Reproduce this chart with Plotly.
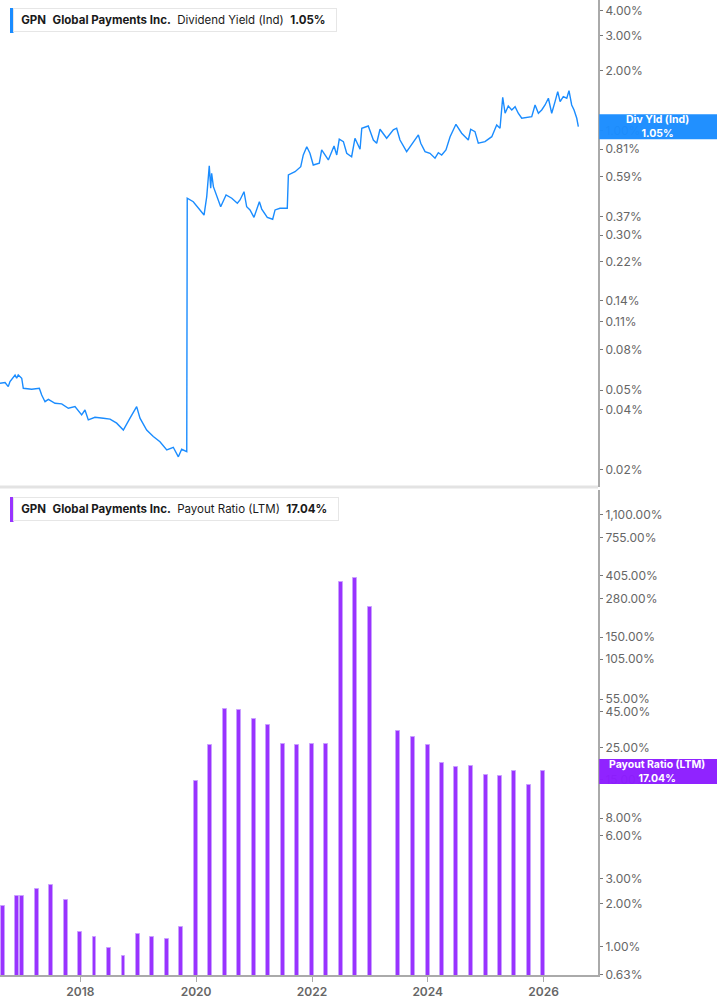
import numpy as np
import plotly.graph_objects as go

# ---------------------------------------------------------------------------
# Data
# ---------------------------------------------------------------------------

# Dividend yield (Ind), in %
yield_dates = [
    "2016-08-12", "2016-09-13", "2016-10-03", "2016-10-14", "2016-11-15", "2016-11-25",
    "2016-12-05", "2016-12-27", "2017-01-06", "2017-02-28", "2017-04-17", "2017-05-02",
    "2017-05-23", "2017-06-13", "2017-07-25", "2017-09-05", "2017-10-17", "2017-11-28",
    "2018-01-09", "2018-01-30", "2018-02-20", "2018-04-03", "2018-05-26", "2018-07-07",
    "2018-08-18", "2018-09-29", "2018-11-10", "2018-12-22", "2019-01-12", "2019-02-23",
    "2019-04-06", "2019-05-18", "2019-06-30", "2019-08-10", "2019-09-11", "2019-10-02",
    "2019-11-03", "2019-11-06", "2019-12-14", "2020-01-26", "2020-02-20", "2020-03-08",
    "2020-03-24", "2020-04-02", "2020-04-08", "2020-04-19", "2020-05-14", "2020-06-04",
    "2020-07-08", "2020-08-13", "2020-09-17", "2020-10-04", "2020-10-29", "2020-11-15",
    "2020-12-06", "2020-12-31", "2021-02-03", "2021-02-18", "2021-03-25", "2021-04-28",
    "2021-05-13", "2021-06-13", "2021-07-29", "2021-08-05", "2021-09-16", "2021-10-22",
    "2021-11-07", "2021-11-29", "2021-12-19", "2022-01-09", "2022-02-16", "2022-03-03",
    "2022-04-14", "2022-05-20", "2022-06-06", "2022-06-22", "2022-07-18", "2022-08-08",
    "2022-09-08", "2022-09-29", "2022-10-31", "2022-11-11", "2022-12-22", "2023-01-13",
    "2023-01-23", "2023-02-13", "2023-03-06", "2023-04-17", "2023-05-29", "2023-06-19",
    "2023-07-10", "2023-08-21", "2023-10-02", "2023-11-03", "2023-11-18", "2023-12-15",
    "2024-01-15", "2024-02-16", "2024-03-08", "2024-03-29", "2024-04-25", "2024-05-21",
    "2024-06-27", "2024-08-02", "2024-09-13", "2024-09-28", "2024-10-25", "2024-11-15",
    "2024-12-27", "2025-02-08", "2025-03-11", "2025-04-01", "2025-04-18", "2025-05-03",
    "2025-05-23", "2025-06-14", "2025-07-05", "2025-07-25", "2025-08-16", "2025-09-27",
    "2025-10-18", "2025-11-08", "2025-11-29", "2025-12-20", "2026-01-10", "2026-01-31",
    "2026-02-21", "2026-03-14", "2026-03-31", "2026-04-15", "2026-05-05", "2026-05-27",
    "2026-06-10", "2026-06-27", "2026-07-12", "2026-07-29", "2026-08-08",
]
yield_values = [
    0.0541, 0.0545, 0.0520, 0.0551, 0.0595, 0.0573,
    0.0595, 0.0573, 0.0510, 0.0505, 0.0510, 0.0472,
    0.0437, 0.0449, 0.0429, 0.0426, 0.0405, 0.0413,
    0.0375, 0.0397, 0.0354, 0.0365, 0.0361, 0.0357,
    0.0341, 0.0315, 0.0361, 0.0413, 0.0361, 0.0315,
    0.0292, 0.0275, 0.0250, 0.0258, 0.0231, 0.0252,
    0.0245, 0.459, 0.441, 0.401, 0.378, 0.468,
    0.667, 0.515, 0.613, 0.525, 0.464, 0.416,
    0.477, 0.459, 0.433, 0.450, 0.495, 0.416,
    0.401, 0.368, 0.441, 0.405, 0.368, 0.360,
    0.401, 0.409, 0.409, 0.601, 0.624, 0.661,
    0.757, 0.833, 0.772, 0.674, 0.688, 0.802,
    0.715, 0.840, 0.757, 0.908, 0.883, 0.772,
    0.742, 0.918, 0.809, 1.031, 1.058, 0.954,
    0.900, 0.867, 1.019, 0.918, 1.011, 1.031,
    0.900, 0.787, 0.873, 0.954, 0.867, 0.787,
    0.772, 0.729, 0.777, 0.757, 0.802, 0.935,
    1.079, 0.973, 0.900, 1.019, 0.991, 0.867,
    0.883, 0.935, 1.071, 1.031, 1.475, 1.226,
    1.334, 1.274, 1.323, 1.226, 1.157, 1.170,
    1.178, 1.349, 1.226, 1.274, 1.349, 1.458,
    1.226, 1.402, 1.573, 1.402, 1.485, 1.458,
    1.591, 1.349, 1.274, 1.157, 1.05,
]

# Payout ratio (LTM), in %, quarterly
payout_dates = [
    "2016-08-31", "2016-11-30", "2016-12-31", "2017-03-31", "2017-06-30", "2017-09-30",
    "2017-12-31", "2018-03-31", "2018-06-30", "2018-09-30", "2018-12-31", "2019-03-31",
    "2019-06-30", "2019-09-30", "2019-12-31", "2020-03-31", "2020-06-30", "2020-09-30",
    "2020-12-31", "2021-03-31", "2021-06-30", "2021-09-30", "2021-12-31", "2022-03-31",
    "2022-06-30", "2022-09-30", "2022-12-31", "2023-06-30", "2023-09-30", "2023-12-31",
    "2024-03-31", "2024-06-30", "2024-09-30", "2024-12-31", "2025-03-31", "2025-06-30",
    "2025-09-30", "2025-12-31",
]
payout_values = [
    1.91, 2.28, 2.28, 2.54, 2.72, 2.12,
    1.26, 1.16, 0.98, 0.86, 1.23, 1.16,
    1.12, 1.38, 14.7, 26.0, 46.6, 46.2,
    39.6, 36.3, 26.7, 26.0, 26.8, 26.8,
    367.0, 394.0, 244.0, 32.9, 29.7, 26.2,
    19.6, 18.2, 18.6, 16.0, 15.9, 17.1,
    13.7, 17.04,
]

yield_ticks = [4.00, 3.00, 2.00, 1.00, 0.81, 0.59, 0.37, 0.30, 0.22, 0.14, 0.11, 0.08, 0.05, 0.04, 0.02]
payout_ticks = [1100, 755, 405, 280, 150, 105, 55, 45, 25, 15, 8, 6, 3, 2, 1, 0.63]
year_ticks = ["2018", "2020", "2022", "2024", "2026"]

last_yield = 1.05
last_payout = 17.04

# ---------------------------------------------------------------------------
# Layout constants
# ---------------------------------------------------------------------------

W, H = 717, 1005
M_R, M_B = 119, 30
plot_w = W - M_R
plot_h = H - M_B

top_dom = [1 - 487 / plot_h, 1]
bot_dom = [0, 485 / plot_h]
top_rng = [np.log10(0.0163), np.log10(4.54)]
bot_rng = [np.log10(0.629), np.log10(1632)]

BLUE = "#1a8cff"
PURPLE = "#9933ff"
PURPLE_TAG = "#8c1cff"
AXIS = "#aaaaaa"
TICK_FONT = dict(family="Inter", size=12, color="#666666")


def frac(v, dom, rng):
    """Paper y-position of value v on a log axis."""
    return dom[0] + (np.log10(v) - rng[0]) / (rng[1] - rng[0]) * (dom[1] - dom[0])


fig = go.Figure()

fig.add_trace(
    go.Scatter(
        x=yield_dates,
        y=yield_values,
        xaxis="x2",
        yaxis="y",
        mode="lines",
        line=dict(color=BLUE, width=1.4),
        showlegend=False,
    )
)
fig.add_trace(
    go.Bar(
        x=payout_dates,
        y=payout_values,
        xaxis="x",
        yaxis="y2",
        width=25 * 86400000,
        marker=dict(color=PURPLE, line=dict(color="#c9a0ff", width=1)),
        showlegend=False,
    )
)

fig.update_layout(
    width=W,
    height=H,
    margin=dict(l=0, r=M_R, t=0, b=M_B),
    paper_bgcolor="white",
    plot_bgcolor="white",
    font=dict(family="Inter"),
    bargap=0,
    xaxis=dict(
        domain=[0, 1],
        anchor="y2",
        type="date",
        range=["2016-08-12", "2026-12-10"],
        tickvals=[f"{y}-01-01" for y in year_ticks],
        ticktext=year_ticks,
        ticks="outside",
        ticklen=5,
        tickcolor=AXIS,
        tickfont=dict(family="Inter", size=12, color="#666666", weight=600),
        showline=True,
        linecolor=AXIS,
        linewidth=2,
        showgrid=False,
        zeroline=False,
    ),
    xaxis2=dict(
        domain=[0, 1],
        anchor="y",
        matches="x",
        showticklabels=False,
        showline=False,
        showgrid=False,
        zeroline=False,
        ticks="",
    ),
    yaxis=dict(
        domain=top_dom,
        anchor="x2",
        type="log",
        range=top_rng,
        side="right",
        tickvals=yield_ticks,
        ticktext=[f"{v:.2f}%" for v in yield_ticks],
        ticks="outside",
        ticklen=3,
        tickcolor="#777777",
        tickfont=TICK_FONT,
        showline=True,
        linecolor=AXIS,
        linewidth=2,
        showgrid=False,
        zeroline=False,
    ),
    yaxis2=dict(
        domain=bot_dom,
        anchor="x",
        type="log",
        range=bot_rng,
        side="right",
        tickvals=payout_ticks,
        ticktext=[f"{v:,.2f}%" for v in payout_ticks],
        ticks="outside",
        ticklen=3,
        tickcolor="#777777",
        tickfont=TICK_FONT,
        showline=True,
        linecolor=AXIS,
        linewidth=2,
        showgrid=False,
        zeroline=False,
    ),
)

# separator between the two panels
fig.add_shape(
    type="line", xref="paper", yref="paper",
    x0=0, x1=1, y0=top_dom[0], y1=top_dom[0],
    line=dict(color="#e3e3e3", width=3),
)

# last-value tags on the right axis
tag_half = 12.5 / plot_h
for val, dom, rng, color, label in [
    (last_yield, top_dom, top_rng, BLUE, "Div Yld (Ind)"),
    (last_payout, bot_dom, bot_rng, PURPLE_TAG, "Payout Ratio (LTM)"),
]:
    yc = frac(val, dom, rng)
    fig.add_shape(
        type="rect", xref="paper", yref="paper",
        x0=1.002, x1=W / plot_w, y0=yc - tag_half, y1=yc + tag_half,
        fillcolor=color, line=dict(width=0), opacity=0.97, layer="above",
    )
    fig.add_annotation(
        xref="paper", yref="paper",
        x=(1 + W / plot_w) / 2, y=yc,
        xanchor="center", yanchor="middle",
        text=f"<b>{label}<br>{val:.2f}%</b>",
        showarrow=False,
        font=dict(family="Inter", size=10.5, color="white"),
        align="center",
    )

# panel title boxes (top-left), coloured bar on the left edge
for y_top, color, metric, val in [
    (8, BLUE, "Dividend Yield (Ind)", last_yield),
    (497, PURPLE, "Payout Ratio (LTM)", last_payout),
]:
    y_paper = 1 - y_top / plot_h
    fig.add_annotation(
        xref="paper", yref="paper",
        x=13 / plot_w, y=y_paper,
        xanchor="left", yanchor="top",
        text=(
            f"&nbsp;<b>GPN</b>&nbsp;&nbsp;<b>Global Payments Inc.</b>&nbsp;&nbsp;"
            f"{metric}&nbsp;&nbsp;<b>{val:.2f}%</b>&nbsp;&nbsp;"
        ),
        showarrow=False,
        font=dict(family="Inter", size=11.5, color="#1a1a1a"),
        bgcolor="white",
        bordercolor="#e6e6e6",
        borderwidth=1,
        borderpad=4,
    )
    fig.add_shape(
        type="rect", xref="paper", yref="paper",
        x0=10 / plot_w, x1=13.5 / plot_w,
        y0=y_paper - 25 / plot_h, y1=y_paper,
        fillcolor=color, line=dict(width=0), layer="above",
    )

fig.write_html(
    "out.html",
    config={"displayModeBar": False},
    post_script="document.body.style.margin = '0';",
)
